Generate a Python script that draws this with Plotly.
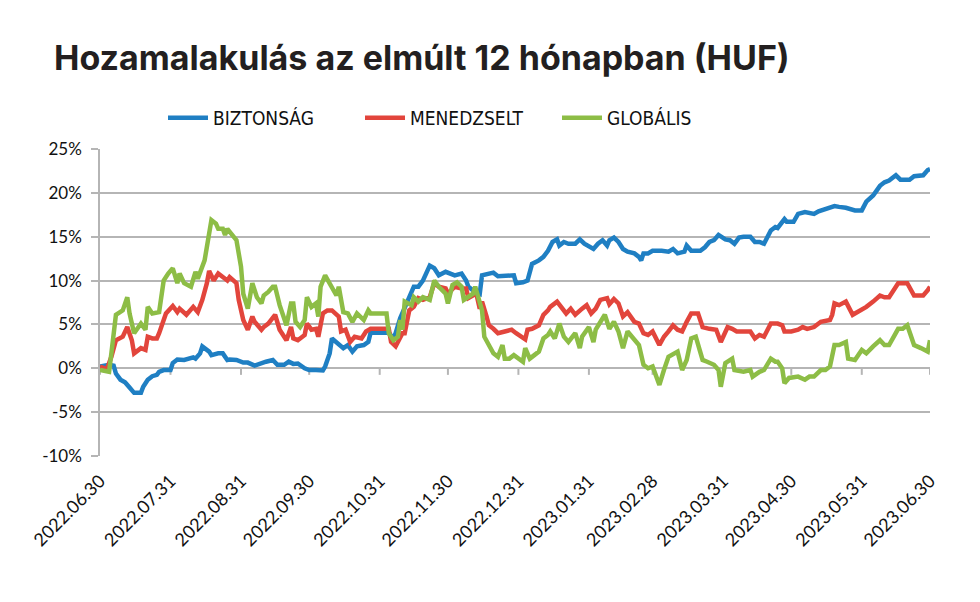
import plotly.graph_objects as go

# ---------------- data ----------------
tick_dates = ["2022-06-30", "2022-07-31", "2022-08-31", "2022-09-30", "2022-10-31", "2022-11-30",
              "2022-12-31", "2023-01-31", "2023-02-28", "2023-03-31", "2023-04-30", "2023-05-31",
              "2023-06-30"]
tick_labels = ["2022.06.30", "2022.07.31", "2022.08.31", "2022.09.30", "2022.10.31", "2022.11.30",
               "2022.12.31", "2023.01.31", "2023.02.28", "2023.03.31", "2023.04.30", "2023.05.31",
               "2023.06.30"]

biztonsag_dates = [
    "2022-06-30", "2022-07-04", "2022-07-06", "2022-07-07", "2022-07-09", "2022-07-11", "2022-07-13",
    "2022-07-15", "2022-07-18", "2022-07-19", "2022-07-21", "2022-07-23", "2022-07-25", "2022-07-26",
    "2022-07-28", "2022-07-31", "2022-08-01", "2022-08-03", "2022-08-06", "2022-08-10", "2022-08-11",
    "2022-08-13", "2022-08-14", "2022-08-17", "2022-08-18", "2022-08-21", "2022-08-23", "2022-08-25",
    "2022-08-26", "2022-08-29", "2022-09-01", "2022-09-03", "2022-09-06", "2022-09-09", "2022-09-11",
    "2022-09-14", "2022-09-16", "2022-09-19", "2022-09-21", "2022-09-23", "2022-09-25", "2022-09-28",
    "2022-09-30", "2022-10-03", "2022-10-06", "2022-10-07", "2022-10-09", "2022-10-10", "2022-10-13",
    "2022-10-15", "2022-10-17", "2022-10-19", "2022-10-21", "2022-10-24", "2022-10-26", "2022-10-27",
    "2022-10-31", "2022-11-04", "2022-11-06", "2022-11-07", "2022-11-09", "2022-11-11", "2022-11-15",
    "2022-11-17", "2022-11-19", "2022-11-22", "2022-11-24", "2022-11-26", "2022-11-29", "2022-12-03",
    "2022-12-06", "2022-12-08", "2022-12-09", "2022-12-11", "2022-12-14", "2022-12-15", "2022-12-18",
    "2022-12-20", "2022-12-22", "2022-12-26", "2022-12-29", "2022-12-30", "2023-01-02", "2023-01-04",
    "2023-01-06", "2023-01-09", "2023-01-11", "2023-01-13", "2023-01-15", "2023-01-17", "2023-01-18",
    "2023-01-20", "2023-01-22", "2023-01-25", "2023-01-27", "2023-01-29", "2023-02-02", "2023-02-04",
    "2023-02-06", "2023-02-08", "2023-02-09", "2023-02-11", "2023-02-13", "2023-02-15", "2023-02-17",
    "2023-02-20", "2023-02-22", "2023-02-23", "2023-02-24", "2023-02-26", "2023-02-28", "2023-03-04",
    "2023-03-07", "2023-03-09", "2023-03-11", "2023-03-14", "2023-03-15", "2023-03-17", "2023-03-21",
    "2023-03-23", "2023-03-25", "2023-03-27", "2023-03-29", "2023-04-01", "2023-04-03", "2023-04-05",
    "2023-04-07", "2023-04-09", "2023-04-12", "2023-04-14", "2023-04-16", "2023-04-18", "2023-04-21",
    "2023-04-23", "2023-04-24", "2023-04-27", "2023-04-28", "2023-05-01", "2023-05-03", "2023-05-06",
    "2023-05-10", "2023-05-12", "2023-05-16", "2023-05-19", "2023-05-21", "2023-05-24", "2023-05-28",
    "2023-05-31", "2023-06-02", "2023-06-05", "2023-06-08", "2023-06-10", "2023-06-12", "2023-06-15",
    "2023-06-17", "2023-06-21", "2023-06-23", "2023-06-27", "2023-06-29", "2023-06-30"]
biztonsag_values = [
    0.2, 0.4, 0.3, -0.6, -1.3, -1.6, -2.2,
    -2.8, -2.8, -2.1, -1.3, -0.9, -0.75, -0.4,
    -0.2, -0.2, 0.6, 1.0, 0.95, 1.25, 1.1,
    1.7, 2.5, 1.9, 1.5, 1.7, 1.7, 0.95,
    1.0, 0.95, 0.65, 0.65, 0.3, 0.65, 0.75,
    0.95, 0.4, 0.4, 0.75, 0.5, 0.55, 0.0,
    -0.2, -0.2, -0.25, 0.2, 1.7, 3.4, 2.8,
    2.3, 2.65, 1.9, 2.5, 2.65, 3.0, 4.05,
    4.05, 4.05, 3.4, 4.0, 5.7, 6.8, 9.3,
    9.3, 10.0, 11.7, 11.4, 10.6, 11.0, 10.6,
    10.8, 10.0, 9.3, 8.9, 8.5, 10.6, 10.8,
    10.9, 10.5, 10.6, 10.6, 9.7, 9.8, 10.0,
    11.9, 12.3, 12.7, 13.4, 14.4, 14.7, 14.0,
    14.4, 14.2, 14.2, 14.7, 14.2, 13.6, 14.2,
    14.6, 14.0, 14.6, 14.9, 14.4, 13.6, 13.3,
    13.1, 12.7, 12.3, 13.1, 13.1, 13.4, 13.4,
    13.3, 13.6, 13.1, 13.3, 14.0, 13.4, 13.4,
    13.8, 14.4, 14.6, 15.2, 14.7, 14.6, 14.2,
    14.9, 15.0, 15.0, 14.4, 14.4, 14.2, 15.7,
    16.1, 16.0, 17.0, 16.7, 16.7, 17.6, 17.8,
    17.6, 17.9, 18.2, 18.5, 18.4, 18.3, 18.0,
    18.0, 19.0, 19.7, 20.8, 21.2, 21.4, 22.0,
    21.5, 21.5, 21.9, 22.0, 22.6, 22.7]

menedzselt_dates = [
    "2022-06-30", "2022-07-03", "2022-07-05", "2022-07-07", "2022-07-10", "2022-07-12", "2022-07-14",
    "2022-07-15", "2022-07-18", "2022-07-20", "2022-07-21", "2022-07-23", "2022-07-25", "2022-07-26",
    "2022-07-29", "2022-07-31", "2022-08-01", "2022-08-03", "2022-08-04", "2022-08-07", "2022-08-10",
    "2022-08-12", "2022-08-14", "2022-08-16", "2022-08-17", "2022-08-19", "2022-08-21", "2022-08-23",
    "2022-08-25", "2022-08-26", "2022-08-29", "2022-08-30", "2022-09-01", "2022-09-03", "2022-09-05",
    "2022-09-06", "2022-09-09", "2022-09-10", "2022-09-12", "2022-09-15", "2022-09-17", "2022-09-20",
    "2022-09-22", "2022-09-23", "2022-09-25", "2022-09-28", "2022-09-29", "2022-10-01", "2022-10-03",
    "2022-10-04", "2022-10-06", "2022-10-08", "2022-10-10", "2022-10-13", "2022-10-14", "2022-10-16",
    "2022-10-18", "2022-10-20", "2022-10-23", "2022-10-25", "2022-10-27", "2022-10-31", "2022-11-04",
    "2022-11-05", "2022-11-07", "2022-11-08", "2022-11-10", "2022-11-11", "2022-11-13", "2022-11-15",
    "2022-11-17", "2022-11-19", "2022-11-22", "2022-11-24", "2022-11-26", "2022-11-29", "2022-11-30",
    "2022-12-03", "2022-12-06", "2022-12-08", "2022-12-09", "2022-12-11", "2022-12-12", "2022-12-14",
    "2022-12-15", "2022-12-17", "2022-12-18", "2022-12-20", "2022-12-22", "2022-12-25", "2022-12-28",
    "2022-12-30", "2023-01-01", "2023-01-03", "2023-01-04", "2023-01-06", "2023-01-09", "2023-01-11",
    "2023-01-13", "2023-01-14", "2023-01-17", "2023-01-19", "2023-01-21", "2023-01-23", "2023-01-25",
    "2023-01-28", "2023-01-30", "2023-02-01", "2023-02-03", "2023-02-05", "2023-02-08", "2023-02-09",
    "2023-02-11", "2023-02-13", "2023-02-15", "2023-02-17", "2023-02-20", "2023-02-22", "2023-02-24",
    "2023-02-26", "2023-02-28", "2023-03-03", "2023-03-05", "2023-03-07", "2023-03-09", "2023-03-11",
    "2023-03-13", "2023-03-15", "2023-03-17", "2023-03-20", "2023-03-22", "2023-03-25", "2023-03-28",
    "2023-03-30", "2023-04-02", "2023-04-04", "2023-04-06", "2023-04-09", "2023-04-12", "2023-04-14",
    "2023-04-16", "2023-04-18", "2023-04-21", "2023-04-24", "2023-04-26", "2023-04-27", "2023-04-30",
    "2023-05-03", "2023-05-05", "2023-05-07", "2023-05-10", "2023-05-13", "2023-05-17", "2023-05-18",
    "2023-05-19", "2023-05-21", "2023-05-24", "2023-05-27", "2023-05-29", "2023-05-31", "2023-06-02",
    "2023-06-05", "2023-06-08", "2023-06-10", "2023-06-12", "2023-06-16", "2023-06-19", "2023-06-20",
    "2023-06-23", "2023-06-25", "2023-06-27", "2023-06-29", "2023-06-30"]
menedzselt_values = [
    0.2, -0.1, 1.3, 3.2, 3.6, 4.7, 3.2,
    1.7, 2.3, 2.1, 3.6, 3.4, 3.4, 4.0,
    6.25, 6.8, 7.1, 6.4, 6.8, 6.1, 7.0,
    6.4, 7.8, 9.7, 11.1, 10.0, 10.8, 10.4,
    10.0, 10.4, 9.7, 7.8, 5.5, 4.4, 5.9,
    5.3, 4.4, 4.7, 5.1, 6.1, 4.4, 3.2,
    4.7, 3.4, 3.2, 3.8, 5.1, 4.4, 4.5,
    3.6, 6.25, 6.6, 6.6, 5.9, 4.2, 4.4,
    3.0, 3.6, 3.4, 4.2, 4.5, 4.5, 4.5,
    3.0, 2.5, 3.0, 4.0, 4.0, 6.6, 7.0,
    8.0, 7.8, 8.1, 9.7, 9.3, 9.1, 8.5,
    9.3, 9.1, 9.1, 8.0, 8.3, 9.1, 6.8,
    7.6, 5.9, 4.9, 4.5, 4.0, 4.2, 4.4,
    4.0, 3.6, 3.3, 4.4, 4.5, 4.9, 6.1,
    6.6, 7.0, 7.6, 7.0, 6.25, 6.8, 6.1,
    6.8, 7.2, 6.25, 6.8, 7.8, 8.0, 7.3,
    7.9, 7.4, 5.9, 6.4, 5.3, 5.1, 4.0,
    3.8, 4.2, 2.65, 3.6, 4.2, 4.9, 4.4,
    4.2, 5.3, 6.25, 6.25, 4.7, 4.5, 4.4,
    3.0, 4.7, 4.5, 4.2, 4.2, 4.2, 3.4,
    3.8, 3.6, 5.1, 5.1, 4.9, 4.2, 4.2,
    4.4, 4.7, 4.5, 4.7, 5.3, 5.5, 6.1,
    7.4, 7.2, 7.6, 6.1, 6.4, 6.8, 7.0,
    7.6, 8.3, 8.1, 8.1, 9.7, 9.7, 9.7,
    8.3, 8.3, 8.3, 8.9, 9.3]

globalis_dates = [
    "2022-06-30", "2022-07-04", "2022-07-05", "2022-07-07", "2022-07-10", "2022-07-12", "2022-07-13",
    "2022-07-15", "2022-07-18", "2022-07-20", "2022-07-21", "2022-07-23", "2022-07-26", "2022-07-28",
    "2022-07-30", "2022-08-01", "2022-08-03", "2022-08-04", "2022-08-06", "2022-08-09", "2022-08-11",
    "2022-08-12", "2022-08-15", "2022-08-17", "2022-08-18", "2022-08-20", "2022-08-21", "2022-08-23",
    "2022-08-24", "2022-08-25", "2022-08-27", "2022-08-29", "2022-08-31", "2022-09-01", "2022-09-03",
    "2022-09-04", "2022-09-05", "2022-09-07", "2022-09-09", "2022-09-10", "2022-09-12", "2022-09-14",
    "2022-09-15", "2022-09-17", "2022-09-20", "2022-09-22", "2022-09-23", "2022-09-24", "2022-09-26",
    "2022-09-28", "2022-09-29", "2022-10-01", "2022-10-03", "2022-10-04", "2022-10-05", "2022-10-07",
    "2022-10-09", "2022-10-12", "2022-10-13", "2022-10-15", "2022-10-17", "2022-10-19", "2022-10-21",
    "2022-10-24", "2022-10-26", "2022-10-27", "2022-10-31", "2022-11-03", "2022-11-04", "2022-11-06",
    "2022-11-08", "2022-11-09", "2022-11-10", "2022-11-11", "2022-11-14", "2022-11-15", "2022-11-17",
    "2022-11-19", "2022-11-22", "2022-11-24", "2022-11-26", "2022-11-29", "2022-11-30", "2022-12-02",
    "2022-12-04", "2022-12-06", "2022-12-07", "2022-12-09", "2022-12-11", "2022-12-12", "2022-12-14",
    "2022-12-15", "2022-12-16", "2022-12-18", "2022-12-20", "2022-12-22", "2022-12-24", "2022-12-25",
    "2022-12-27", "2022-12-29", "2022-12-31", "2023-01-02", "2023-01-03", "2023-01-05", "2023-01-07",
    "2023-01-09", "2023-01-11", "2023-01-13", "2023-01-14", "2023-01-16", "2023-01-18", "2023-01-20",
    "2023-01-22", "2023-01-25", "2023-01-27", "2023-01-28", "2023-01-31", "2023-02-02", "2023-02-03",
    "2023-02-05", "2023-02-07", "2023-02-09", "2023-02-11", "2023-02-13", "2023-02-15", "2023-02-17",
    "2023-02-20", "2023-02-22", "2023-02-24", "2023-02-26", "2023-02-28", "2023-03-03", "2023-03-05",
    "2023-03-07", "2023-03-11", "2023-03-13", "2023-03-15", "2023-03-17", "2023-03-19", "2023-03-22",
    "2023-03-24", "2023-03-27", "2023-03-29", "2023-03-30", "2023-04-01", "2023-04-04", "2023-04-05",
    "2023-04-09", "2023-04-12", "2023-04-13", "2023-04-16", "2023-04-18", "2023-04-21", "2023-04-23",
    "2023-04-24", "2023-04-26", "2023-04-27", "2023-04-29", "2023-05-03", "2023-05-06", "2023-05-08",
    "2023-05-10", "2023-05-13", "2023-05-15", "2023-05-17", "2023-05-19", "2023-05-21", "2023-05-24",
    "2023-05-25", "2023-05-28", "2023-05-31", "2023-06-02", "2023-06-05", "2023-06-08", "2023-06-10",
    "2023-06-12", "2023-06-16", "2023-06-18", "2023-06-20", "2023-06-23", "2023-06-26", "2023-06-29",
    "2023-06-30"]
globalis_values = [
    -0.2, -0.4, 1.7, 6.1, 6.6, 8.1, 6.25,
    4.0, 5.1, 4.4, 7.0, 6.25, 6.4, 10.0,
    10.8, 11.4, 9.7, 10.8, 9.7, 9.3, 11.0,
    10.2, 12.3, 15.7, 16.9, 16.5, 15.9, 15.9,
    15.2, 15.9, 15.3, 14.6, 11.6, 8.5, 6.8,
    8.1, 9.7, 8.1, 7.4, 8.3, 8.7, 9.3,
    9.3, 7.2, 4.9, 7.4, 7.4, 5.3, 4.7,
    5.5, 8.1, 7.0, 7.4, 5.9, 9.3, 10.6,
    9.7, 8.3, 9.3, 6.4, 6.25, 5.3, 6.25,
    5.5, 6.6, 6.25, 6.25, 6.25, 4.0, 3.2,
    3.6, 5.5, 4.4, 7.6, 7.2, 8.1, 7.6,
    8.1, 7.8, 10.0, 9.3, 8.5, 7.4, 9.5,
    9.8, 9.3, 7.8, 8.1, 8.5, 9.3, 7.4,
    6.6, 3.6, 2.65, 1.7, 1.3, 2.65, 1.1,
    1.1, 1.5, 1.1, 0.75, 2.3, 1.1, 1.5,
    1.9, 3.4, 3.8, 4.2, 3.4, 5.1, 3.6,
    3.0, 4.0, 2.3, 3.6, 4.7, 3.0, 4.4,
    5.3, 6.1, 4.5, 5.3, 4.2, 2.3, 4.2,
    3.2, 2.65, 0.4, 0.0, 0.2, -1.9, -0.2,
    1.3, 1.9, -0.2, 0.95, 3.4, 3.6, 0.95,
    0.75, 0.4, -0.2, -2.1, 0.6, 1.1, -0.2,
    -0.4, -0.2, -0.95, -0.4, -0.2, 1.1, 0.75,
    0.75, 0.0, -1.7, -1.1, -0.95, -1.3, -0.95,
    -0.95, -0.2, -0.2, 0.2, 2.65, 2.65, 3.0,
    1.1, 0.95, 2.1, 1.7, 2.5, 3.2, 2.65,
    2.65, 4.5, 4.5, 4.9, 2.65, 2.3, 1.9,
    3.2]

series = [
    ("BIZTONSÁG", biztonsag_dates, biztonsag_values, "#1f7fc3"),
    ("MENEDZSELT", menedzselt_dates, menedzselt_values, "#e2453c"),
    ("GLOBÁLIS", globalis_dates, globalis_values, "#8dbd46"),
]

GRID = "#b5b5b5"
TXT = "#111111"

fig = go.Figure()

# small tick marks hanging below the 0 % line at each month end (category axis crossing)
n_ticks = len(tick_dates)
fig.add_trace(go.Scatter(
    x=tick_dates, y=[0] * n_ticks, mode="markers", showlegend=False, hoverinfo="skip",
    marker=dict(size=1, opacity=0),
    error_y=dict(type="data", symmetric=False, array=[0] * n_ticks,
                 arrayminus=[0.75] * n_ticks, width=0, thickness=2, color=GRID)))

for name, d, v, c in series:
    fig.add_trace(go.Scatter(x=d, y=v, name=name, mode="lines",
                             line=dict(color=c, width=4.5), hoverinfo="skip"))

fig.update_layout(
    width=980, height=602,
    margin=dict(l=100, r=50, t=149, b=146),
    paper_bgcolor="white", plot_bgcolor="white",
    title=dict(text="<b>Hozamalakulás az elmúlt 12 hónapban (HUF)</b>",
               font=dict(family="Inter, Noto Sans, sans-serif", size=34, color="#231f20"),
               x=54 / 980, xanchor="left", xref="container",
               y=1 - 58 / 602, yanchor="middle", yref="container"),
    legend=dict(orientation="h", x=(163 - 100) / 830, xanchor="left",
                y=(456 - 118) / 307, yanchor="middle",
                font=dict(family="Liberation Sans Narrow, DejaVu Sans Condensed, sans-serif",
                          size=19, color=TXT),
                entrywidth=142, entrywidthmode="pixels",
                bgcolor="rgba(0,0,0,0)", itemwidth=40),
    showlegend=True,
    xaxis=dict(type="date", range=[tick_dates[0], tick_dates[-1]],
               tickmode="array", tickvals=tick_dates, ticktext=tick_labels,
               tickangle=-45, showgrid=False, zeroline=False, showline=False,
               ticks="", ticklabelstandoff=10,
               tickfont=dict(family="Lato, sans-serif", size=18, color=TXT)),
    yaxis=dict(range=[-10, 25], tickmode="array",
               tickvals=[-10, -5, 0, 5, 10, 15, 20, 25],
               ticktext=["-10%", "-5%", "0%", "5%", "10%", "15%", "20%", "25%"],
               showgrid=True, gridcolor=GRID, gridwidth=1.5,
               zeroline=False, showline=True, linecolor=GRID, linewidth=1.5,
               ticks="outside", ticklen=7, tickwidth=1.5, tickcolor=GRID,
               ticklabelstandoff=6,
               tickfont=dict(family="Lato, sans-serif", size=17, color=TXT)),
)

fig.write_html("out.html")
